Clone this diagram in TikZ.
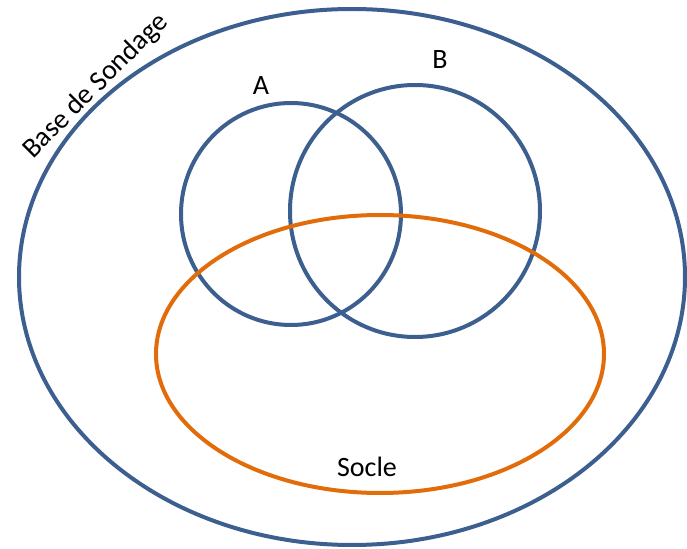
\documentclass[tikz,border=0pt]{standalone}
\usepackage{fontspec}
\setmainfont{Carlito}
\definecolor{setblue}{RGB}{60,95,143}
\definecolor{setorange}{RGB}{227,108,10}

\begin{document}
\begin{tikzpicture}[x=0.75pt,y=0.75pt,yscale=-1,xscale=1]
\tikzset{setline/.style={line width=3pt},
  lbl/.style={inner sep=0.75pt,font=\fontsize{21}{25}\selectfont}}
\useasboundingbox (0,0) rectangle (687,549);

%Shape: Ellipse [base]
\draw [setblue,setline] (352,277) ellipse (333 and 268);
%Shape: Circle [A]
\draw [setblue,setline] (291,214) ellipse (110 and 111);
%Shape: Circle [B]
\draw [setblue,setline] (415,211) ellipse (125 and 126);
%Shape: Ellipse [socle]
\draw [setorange,setline] (380,354) ellipse (224 and 139);

% Text Node
\node (labA) [lbl] at (261,86) {A};
% Text Node
\node (labB) [lbl] at (440,60) {B};
% Text Node
\node (labSocle) [lbl] at (367,467) {Socle};
% Text Node
\node (labBase) [lbl,rotate=45] at (96,86) {Base de Sondage};

\end{tikzpicture}
\end{document}
